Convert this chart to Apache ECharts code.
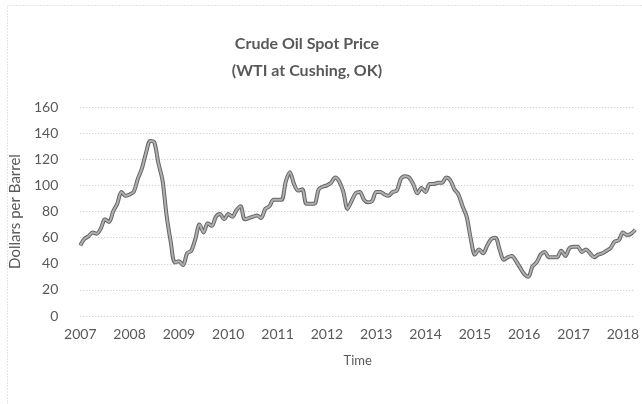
<!DOCTYPE html>
<html>
<head>
<meta charset="utf-8">
<script src="https://cdn.jsdelivr.net/npm/echarts@6/dist/echarts.min.js"></script>
<style>html,body{margin:0;padding:0;background:#fff;}#c{width:642px;height:404px;}</style>
</head>
<body>
<div id="c"></div>
<script>
// Monthly WTI spot price, Jan 2007 – Apr 2018
const months = [];
for (let y = 2007; y <= 2018; y++) {
  for (let m = 1; m <= 12; m++) {
    if (y === 2018 && m > 4) break;
    months.push(y + '-' + (m < 10 ? '0' + m : m));
  }
}
const prices = [
  54, 59, 61, 64, 63, 67, 74, 72, 80, 86, 95, 92,
  93, 95, 105, 113, 125, 134, 133, 117, 104, 77, 57, 41,
  42, 39, 48, 50, 59, 70, 64, 71, 69, 76, 78, 74,
  78, 76, 81, 84, 74, 75, 76, 77, 75, 82, 84, 89,
  89, 89, 103, 110, 101, 96, 97, 86, 86, 86, 97, 99,
  100, 102, 106, 103, 95, 82, 88, 94, 95, 89, 87, 88,
  95, 95, 93, 92, 95, 96, 105, 107, 106, 101, 94, 98,
  95, 101, 101, 102, 102, 106, 104, 97, 93, 84, 76, 59,
  47, 51, 48, 54, 59, 60, 51, 43, 45, 46, 42, 37,
  32, 30, 38, 41, 47, 49, 45, 45, 45, 50, 46, 52,
  53, 53, 49, 51, 48, 45, 47, 48, 50, 52, 57, 58,
  64, 62, 63, 66
];
const yTicks = [0, 20, 40, 60, 80, 100, 120, 140, 160];
const titleLines = ['Crude Oil Spot Price', '(WTI at Cushing, OK)'];
const yTitle = 'Dollars per Barrel';
const xTitle = 'Time';

const FONT = 'Lato';
const TXT = '#595959';
const chart = echarts.init(document.getElementById('c'), null, {renderer: 'canvas'});
chart.setOption({
  animation: false,
  backgroundColor: '#fff',
  title: {
    text: titleLines.join('\n'),
    left: 302, top: 25, textAlign: 'center',
    textStyle: {fontFamily: FONT, fontSize: 16, fontWeight: 'bold', color: TXT, lineHeight: 27}
  },
  graphic: [{
    type: 'rect', left: 5, top: 3, shape: {width: 700, height: 500},
    style: {fill: 'none', stroke: '#c8c8c8', lineWidth: 1, lineDash: [1, 2]}, silent: true, z: -1
  }],
  grid: {left: 74, right: 2, top: 107, bottom: 88, containLabel: false},
  xAxis: {
    type: 'category', data: months, boundaryGap: false,
    name: xTitle, nameLocation: 'middle', nameGap: 38,
    nameTextStyle: {fontFamily: FONT, fontSize: 13, color: TXT},
    axisLine: {show: false}, axisTick: {show: false},
    axisLabel: {
      interval: (i, v) => v.endsWith('-01'),
      formatter: v => v.slice(0, 4),
      fontFamily: FONT, fontSize: 14, color: TXT, margin: 11
    },
    splitLine: {show: false}
  },
  yAxis: {
    type: 'value', min: yTicks[0], max: yTicks[yTicks.length - 1], interval: 20,
    name: yTitle, nameLocation: 'middle', nameGap: 37,
    nameTextStyle: {fontFamily: FONT, fontSize: 15, color: TXT},
    axisLine: {show: false}, axisTick: {show: false},
    axisLabel: {fontFamily: FONT, fontSize: 14, color: TXT, margin: 22},
    splitLine: {lineStyle: {color: '#c4c4c4', type: [1, 2], width: 1}}
  },
  series: [
    {type: 'line', data: prices, showSymbol: false, smooth: 0.3,
     lineStyle: {color: '#666', width: 4}, z: 2},
    {type: 'line', data: prices, showSymbol: false, smooth: 0.3,
     lineStyle: {color: '#b0b0b0', width: 2}, z: 3}
  ]
});
</script>
</body>
</html>
